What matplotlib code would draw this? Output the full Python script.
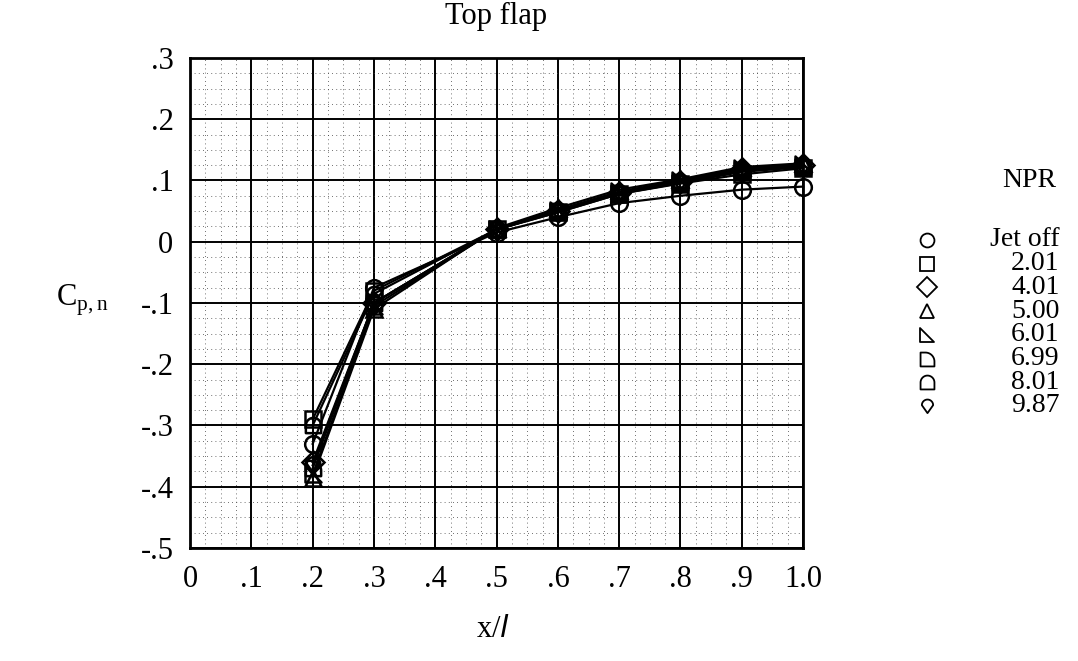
import numpy as np
import matplotlib
matplotlib.use("Agg")
import matplotlib.pyplot as plt
from matplotlib.path import Path
from matplotlib.ticker import MultipleLocator

# ---------------- data ----------------
x_pos = [0.2, 0.3, 0.5, 0.6, 0.7, 0.8, 0.9, 1.0]
npr_labels = ["Jet off", "2.01", "4.01", "5.00", "6.01", "6.99", "8.01", "9.87"]
cp_jetoff = [-0.330, -0.075, 0.015, 0.040, 0.063, 0.075, 0.085, 0.090]
cp_201 = [-0.290, -0.080, 0.020, 0.048, 0.078, 0.095, 0.110, 0.120]
cp_401 = [-0.360, -0.100, 0.020, 0.050, 0.080, 0.098, 0.118, 0.125]
cp_500 = [-0.385, -0.110, 0.022, 0.055, 0.085, 0.102, 0.122, 0.128]
cp_601 = [-0.380, -0.105, 0.020, 0.052, 0.082, 0.100, 0.120, 0.127]
cp_699 = [-0.370, -0.100, 0.020, 0.050, 0.080, 0.098, 0.117, 0.124]
cp_801 = [-0.300, -0.085, 0.020, 0.048, 0.078, 0.096, 0.114, 0.122]
cp_987 = [-0.365, -0.100, 0.020, 0.050, 0.080, 0.097, 0.116, 0.123]
series = [cp_jetoff, cp_201, cp_401, cp_500, cp_601, cp_699, cp_801, cp_987]

xticks = [0, 0.1, 0.2, 0.3, 0.4, 0.5, 0.6, 0.7, 0.8, 0.9, 1.0]
xticklabels = ["0", ".1", ".2", ".3", ".4", ".5", ".6", ".7", ".8", ".9", "1.0"]
yticks = [-0.5, -0.4, -0.3, -0.2, -0.1, 0, 0.1, 0.2, 0.3]
yticklabels = ["-.5", "-.4", "-.3", "-.2", "-.1", "0", ".1", ".2", ".3"]

# ---------------- custom marker shapes ----------------
def arc(cx, cy, r, a0, a1, n=20):
    t = np.linspace(np.radians(a0), np.radians(a1), n)
    return list(zip(cx + r * np.cos(t), cy + r * np.sin(t)))

right_tri = Path([(-1, 1), (-1, -1), (1, -1), (-1, 1)], closed=True)
d_pts = [(-1, -1), (-1, 1), (-0.3, 1)] + arc(-0.3, -0.3, 1.3, 90, 0) + [(1, -1), (-1, -1)]
d_shape = Path(d_pts, closed=True)
arch_pts = [(-1, -1), (-1, 0)] + arc(0, 0, 1, 180, 0) + [(1, -1), (-1, -1)]
arch = Path(arch_pts, closed=True)
drop_pts = arc(0, 0.2, 0.85, 0, 180) + [(0, -1), (0.85, 0.2)]
drop = Path(drop_pts, closed=True)

markers = ["o", "s", "D", "^", right_tri, d_shape, arch, drop]
msizes = [12, 11, 11, 12, 11, 11, 11, 12]

plt.rcParams["font.family"] = ["Liberation Serif", "DejaVu Serif"]
FS = 22
LFS = 20

fig = plt.figure(figsize=(10.78, 6.61), dpi=100)
ax = fig.add_axes([0.1763, 0.171, 0.5687, 0.7413])

for ys, m, ms in zip(series, markers, msizes):
    ax.plot(x_pos, ys, color="black", lw=1.6, marker=m, ms=ms,
            mfc="none", mec="black", mew=1.8, zorder=3, clip_on=False)

ax.set_xlim(0, 1.0)
ax.set_ylim(-0.5, 0.3)
ax.set_xticks(xticks)
ax.set_xticklabels(xticklabels, fontsize=FS)
ax.set_yticks(yticks)
ax.set_yticklabels(yticklabels, fontsize=FS)
ax.xaxis.set_minor_locator(MultipleLocator(0.025))
ax.yaxis.set_minor_locator(MultipleLocator(0.025))
ax.tick_params(which="both", length=0)
ax.tick_params(axis="x", pad=12)
ax.tick_params(axis="y", pad=12)
ax.grid(which="major", color="black", lw=1.4, zorder=1)
ax.grid(which="minor", color="0.25", lw=0.6, ls=(0, (1, 4)), zorder=1)
for s in ax.spines.values():
    s.set_linewidth(2)

fig.text(0.4605, 0.997, "Top flap", ha="center", va="top", fontsize=FS)
fig.text(0.077, 0.545, r"C$_{\mathregular{p,n}}$", ha="center", va="center", fontsize=FS)
fig.text(0.457, 0.048, r"x/$\mathit{l}$", ha="center", va="center", fontsize=FS)

# legend
fig.text(0.955, 0.727, "NPR", ha="center", va="center", fontsize=LFS)
row_y0 = 240
row_dy = 23.7
for i, (lab, m) in enumerate(zip(npr_labels, markers)):
    yf = 1 - (row_y0 + i * row_dy) / 661
    fig.lines.append(plt.Line2D([0.86], [yf], transform=fig.transFigure, marker=m,
                                ms=10, mfc="none", mec="black", mew=1.3, ls="none"))
    fig.text(0.983, yf, lab, ha="right", va="center", fontsize=LFS)

fig.savefig("out.png", dpi=100)
